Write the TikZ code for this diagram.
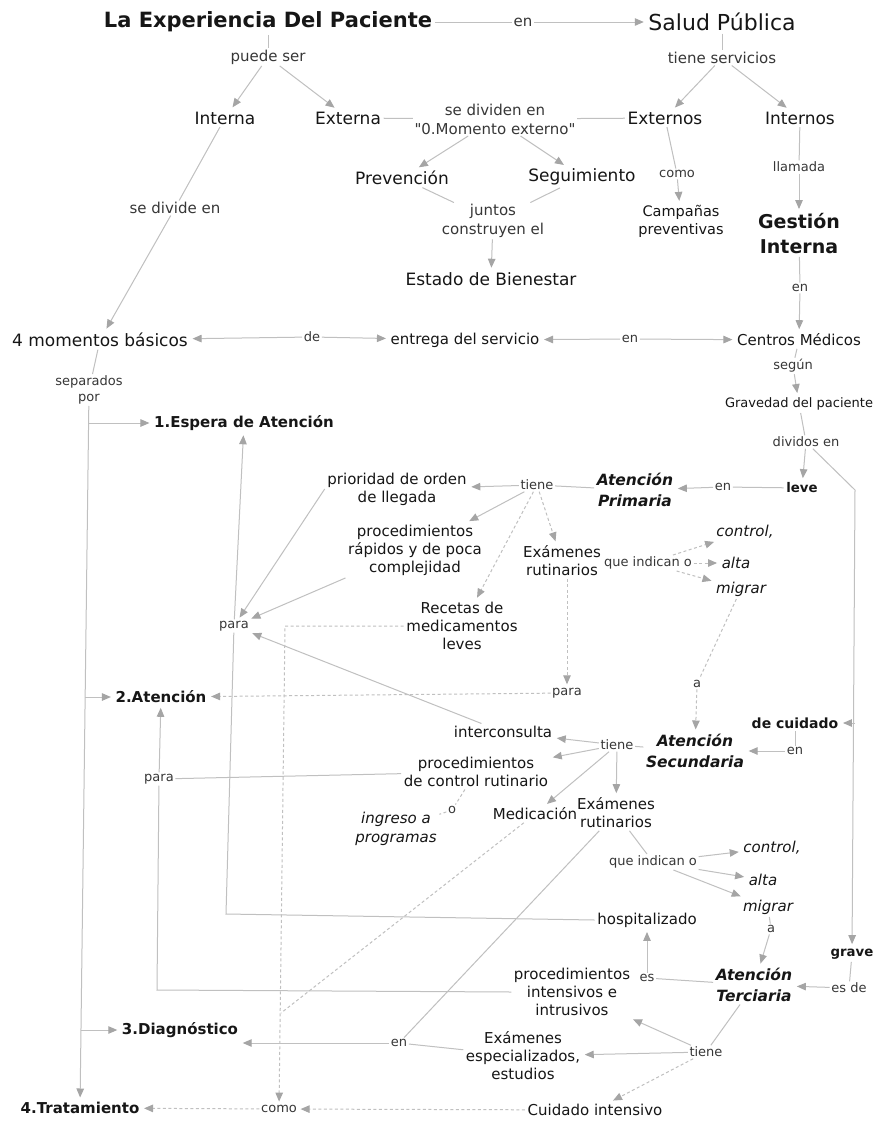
\documentclass[tikz,border=0pt]{standalone}
\usepackage{fontspec}
\setmainfont{DejaVu Sans}[Ligatures=TeXOff]
\usetikzlibrary{arrows.meta}
\definecolor{ctext}{RGB}{22,22,22}
\definecolor{ltext}{RGB}{55,55,55}
\definecolor{lcol}{RGB}{192,192,192}
\definecolor{acol}{RGB}{165,165,165}
\begin{document}
\begin{tikzpicture}[x=1pt,y=-1pt,
  base/.style={inner sep=2.5pt, align=center},
  cA/.style={base, text=ctext, font=\fontsize{17}{20.5}\selectfont},
  cB/.style={base, text=ctext, font=\fontsize{15}{18}\selectfont},
  cBb/.style={base, text=ctext, font=\fontsize{15}{18}\selectfont\bfseries},
  cSb/.style={base, text=ctext, font=\fontsize{13.3}{16}\selectfont\bfseries},
  cBbi/.style={base, text=ctext, font=\fontsize{15.5}{21}\selectfont\bfseries\itshape},
  cBi/.style={base, text=ctext, font=\fontsize{15}{18.5}\selectfont\itshape},
  lA/.style={base, inner sep=1.5pt, text=ltext, font=\fontsize{15}{19}\selectfont},
  lB/.style={base, inner sep=1.5pt, text=ltext, font=\fontsize{13}{16}\selectfont},
  ln/.style={draw=lcol, line width=1pt},
  ar/.style={ln, -{Triangle[length=9pt,width=7.5pt,color=acol]}, shorten >=2pt},
  dsh/.style={dash pattern=on 3pt off 2.5pt}
]
\useasboundingbox[fill=white] (0,0) rectangle (876,1122);

% ---------- nodes ----------
\node[base, text=ctext, font=\fontsize{21}{25}\selectfont\bfseries] (exp) at (268,22) {La Experiencia Del Paciente};
\node[base, text=ctext, font=\fontsize{22}{26}\selectfont] (sp) at (722,22) {Salud Pública};
\node[lA] (en1) at (523,22) {en};
\node[lA] (puede) at (268,57) {puede ser};
\node[lA] (tserv) at (722,58) {tiene servicios};
\node[cA] (interna) at (225,118) {Interna};
\node[cA] (externa) at (348,118) {Externa};
\node[lA] (sediv) at (495,119) {se dividen en\\"0.Momento externo"};
\node[cA] (externos) at (665,118) {Externos};
\node[cA] (internos) at (800,118) {Internos};
\node[cA] (prev) at (402,178) {Prevención};
\node[cA] (seg) at (582,177) {Seguimiento};
\node[lB] (como1) at (677,174) {como};
\node[lB] (llamada) at (799,167) {llamada};
\node[lA] (juntos) at (493,221) {juntos\\construyen el};
\node[base, text=ctext, font=\fontsize{14.5}{17.5}\selectfont] (campanas) at (681,221.5) {Campañas\\preventivas};
\node[base, text=ctext, font=\fontsize{19}{25}\selectfont\bfseries] (gestion) at (799,234) {Gestión\\Interna};
\node[cA] (estado) at (491,279) {Estado de Bienestar};
\node[lA] (sedivide) at (175,208) {se divide en};
\node[lB] (en2) at (800,288) {en};
\node[cA] (momentos) at (100,340) {4 momentos básicos};
\node[lB] (de) at (312,337) {de};
\node[cB] (entrega) at (465,340) {entrega del servicio};
\node[lB] (en3) at (630,339) {en};
\node[cB] (centros) at (799,340) {Centros Médicos};
\node[lB] (segun) at (793,366) {según};
\node[base, text=ctext, font=\fontsize{13}{16}\selectfont] (grav) at (799,404) {Gravedad del paciente};
\node[lB] (dividos) at (806,442) {dividos en};
\node[cSb] (leve) at (802,488) {leve};
\node[lB] (en4) at (723,487) {en};
\node[cBbi] (AP) at (635,490) {Atención\\Primaria};
\node[lB] (tiene1) at (537,485) {tiene};
\node[cB] (prior) at (397,489) {prioridad de orden\\de llegada};
\node[cB] (procrap) at (415,550) {procedimientos\\rápidos y de poca\\complejidad};
\node[cB] (exam1) at (562,561) {Exámenes\\rutinarios};
\node[lB] (qio1) at (648,563) {que indican o};
\node[cBi] (ctrl1) at (745,532) {control,};
\node[cBi] (alta1) at (736,563) {alta};
\node[cBi] (migr1) at (741,589) {migrar};
\node[cB] (recetas) at (462,626) {Recetas de\\medicamentos\\leves};
\node[lB] (para1) at (234,626) {para};
\node[lB] (para2) at (567,693) {para};
\node[cBb] (aten2) at (161,697) {2.Atención};
\node[lB] (a1) at (697,684) {a};
\node[cB] (intercon) at (503,732) {interconsulta};
\node[lB] (tiene2) at (617,745) {tiene};
\node[cBbi] (AS) at (695,751) {Atención\\Secundaria};
\node[base, text=ctext, font=\fontsize{14}{17}\selectfont\bfseries] (decuid) at (795,723) {de cuidado};
\node[lB] (en5) at (795,751) {en};
\node[cB] (proccr) at (476,772) {procedimientos\\de control rutinario};
\node[lB] (para3) at (159,779) {para};
\node[lB] (o1) at (452,810) {o};
\node[cBi] (ingreso) at (396,829) {ingreso a\\programas};
\node[cB] (medic) at (535,814) {Medicación};
\node[cB] (exam2) at (616,813) {Exámenes\\rutinarios};
\node[lB] (qio2) at (653,862) {que indican o};
\node[cBi] (ctrl2) at (772,848) {control,};
\node[cBi] (alta2) at (763,880) {alta};
\node[cBi] (migr2) at (768,907) {migrar};
\node[lB] (a2) at (771,929) {a};
\node[cB] (hosp) at (647,920) {hospitalizado};
\node[lB] (es) at (647,978) {es};
\node[cBbi] (AT) at (754,985) {Atención\\Terciaria};
\node[cSb] (grave) at (852,954) {grave};
\node[lB] (esde) at (849,988) {es de};
\node[cB] (procint) at (572,992) {procedimientos\\intensivos e\\intrusivos};
\node[lB] (tiene3) at (706,1052) {tiene};
\node[cB] (examesp) at (523,1056) {Exámenes\\especializados,\\estudios};
\node[lB] (en6) at (399,1043) {en};
\node[cBb] (diag) at (180,1030) {3.Diagnóstico};
\node[cB] (cuidint) at (595,1110) {Cuidado intensivo};
\node[lB] (como2) at (279,1109) {como};
\node[cBb] (trat) at (80,1108) {4.Tratamiento};
\node[cBb] (espera) at (244,423) {1.Espera de Atención};
\node[lB] (separ) at (89,390) {separados\\por};

\coordinate (gturn) at (855,490);
\coordinate (gbr) at (855,723);
\coordinate (hturn) at (226,914);
\coordinate (pturn) at (157,990);
\coordinate (rturn) at (285,626);
\coordinate (mjoin) at (281,1013);
\coordinate (b1) at (88.8,423);
\coordinate (b2) at (85.2,697);
\coordinate (b3) at (80.8,1030);

% ---------- connectors ----------
\draw[ln] (exp) -- (en1);
\draw[ar] (en1) -- (sp);
\draw[ln] (exp) -- (puede);
\draw[ar] (puede) -- (interna);
\draw[ar] (puede) -- (externa);
\draw[ln] (sp) -- (tserv);
\draw[ar] (tserv) -- (externos);
\draw[ar] (tserv) -- (internos);
\draw[ln] (externa) -- (sediv);
\draw[ln] (externos) -- (sediv);
\draw[ar] (sediv) -- (prev);
\draw[ar] (sediv) -- (seg);
\draw[ln] (externos) -- (como1);
\draw[ar] (como1) -- (campanas);
\draw[ln] (internos) -- (llamada);
\draw[ar] (llamada) -- (gestion);
\draw[ln] (prev) -- (juntos);
\draw[ln] (seg) -- (juntos);
\draw[ar] (juntos) -- (estado);
\draw[ln] (interna) -- (sedivide);
\draw[ar] (sedivide) -- (momentos);
\draw[ar] (de) -- (momentos);
\draw[ar] (de) -- (entrega);
\draw[ar] (en3) -- (entrega);
\draw[ar] (en3) -- (centros);
\draw[ln] (gestion) -- (en2);
\draw[ar] (en2) -- (centros);
\draw[ln] (centros) -- (segun);
\draw[ar] (segun) -- (grav);
\draw[ln] (grav) -- (dividos);
\draw[ar] (dividos) -- (leve);
\draw[ar] (dividos) -- (gturn) -- (grave);
\draw[ar] (gbr) -- (decuid);
\draw[ln] (leve) -- (en4);
\draw[ar] (en4) -- (AP);
\draw[ln] (AP) -- (tiene1);
\draw[ar] (tiene1) -- (prior);
\draw[ar] (tiene1) -- (procrap);
\draw[ar,dsh] (tiene1) -- (recetas);
\draw[ar,dsh] (tiene1) -- (exam1);
\draw[ar,dsh] (qio1) -- (ctrl1);
\draw[ar,dsh] (qio1) -- (alta1);
\draw[ar,dsh] (qio1) -- (migr1);
\draw[ln,dsh] (migr1) -- (a1);
\draw[ar,dsh] (a1) -- (AS);
\draw[ar,dsh] (para2.north |- exam1.south) -- (para2);
\draw[ar,dsh] (para2) -- (aten2);
\draw[ar] (prior.west) -- (para1);
\draw[ar] (procrap.south west) -- (para1);
\draw[ar] (intercon) -- (para1);
\draw[ar] (para1) -- (espera);
\draw[ln] (hosp.west) -- (hturn) -- (para1);
\draw[ln] (proccr) -- (para3);
\draw[ln] (procint.west) -- (pturn) -- (para3);
\draw[ar] (para3) -- (aten2);
\draw[ln] (decuid) -- (en5);
\draw[ar] (en5) -- (AS);
\draw[ln] (AS) -- (tiene2);
\draw[ar] (tiene2) -- (intercon);
\draw[ar] (tiene2) -- (proccr);
\draw[ar] (tiene2) -- (medic);
\draw[ar] (tiene2) -- (exam2);
\draw[ln,dsh] (proccr) -- (o1);
\draw[ln,dsh] (o1) -- (ingreso);
\draw[ln] (exam2) -- (qio2);
\draw[ar] (qio2) -- (ctrl2);
\draw[ar] (qio2) -- (alta2);
\draw[ar] (qio2) -- (migr2);
\draw[ln] (migr2) -- (a2);
\draw[ar] (a2) -- (AT);
\draw[ln] (exam2) -- (en6);
\draw[ln] (examesp) -- (en6);
\draw[ar] (en6) -- (en6 -| diag.east);
\draw[ln] (grave) -- (esde);
\draw[ar] (esde) -- (AT);
\draw[ln] (AT) -- (es);
\draw[ar] (es) -- (hosp);
\draw[ln] (AT) -- (tiene3);
\draw[ar] (tiene3) -- (procint);
\draw[ar] (tiene3) -- (examesp);
\draw[ar,dsh] (tiene3) -- (cuidint);
\draw[ar,dsh] (cuidint) -- (como2);
\draw[ar,dsh] (como2) -- (trat);
\draw[ar,dsh] (recetas.west) -- (rturn) -- (como2);
\draw[ln,dsh] (medic) -- (mjoin);
\draw[ln] (momentos) -- (separ);
\draw[ar] (separ) -- (trat);
\draw[ar] (b1) -- (espera);
\draw[ar] (b2) -- (aten2);
\draw[ar] (b3) -- (diag);
\end{tikzpicture}
\end{document}
